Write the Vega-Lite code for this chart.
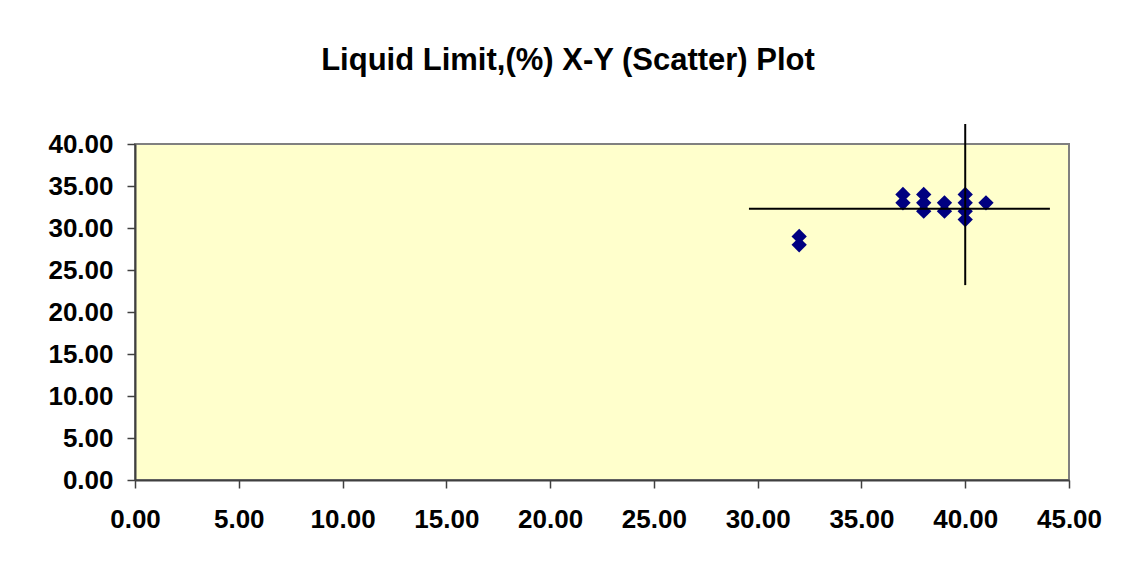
{
  "$schema": "https://vega.github.io/schema/vega-lite/v6.json",
  "width": 934,
  "height": 336,
  "autosize": {"type": "none"},
  "padding": {"left": 135, "top": 144, "right": 71, "bottom": 91},
  "background": "#ffffff",
  "title": {
    "text": "Liquid Limit,(%) X-Y (Scatter) Plot",
    "font": "Liberation Sans",
    "fontSize": 31,
    "fontWeight": "bold",
    "color": "#000000",
    "anchor": "middle",
    "dx": -34,
    "baseline": "alphabetic",
    "offset": 22
  },
  "config": {
    "view": {"fill": "#FFFFCC", "stroke": "#808080", "strokeWidth": 2},
    "axis": {
      "grid": false,
      "domainColor": "#404040",
      "domainWidth": 2,
      "tickColor": "#404040",
      "tickWidth": 1.5,
      "tickSize": 8,
      "labelFont": "Liberation Sans",
      "labelFontSize": 26,
      "labelFontWeight": "bold",
      "labelColor": "#000000",
      "labelFlush": false,
      "labelOverlap": false,
      "title": null
    }
  },
  "layer": [
    {
      "data": {
        "values": [
          {"x": 32, "y": 28}, {"x": 32, "y": 29},
          {"x": 37, "y": 33}, {"x": 37, "y": 34},
          {"x": 38, "y": 32}, {"x": 38, "y": 33}, {"x": 38, "y": 34},
          {"x": 39, "y": 32}, {"x": 39, "y": 33},
          {"x": 40, "y": 31}, {"x": 40, "y": 32}, {"x": 40, "y": 33}, {"x": 40, "y": 34},
          {"x": 41, "y": 33}
        ]
      },
      "mark": {"type": "point", "shape": "diamond", "filled": true, "size": 235, "color": "#000080", "opacity": 1},
      "encoding": {
        "x": {"field": "x", "type": "quantitative", "scale": {"domain": [0, 45], "nice": false, "zero": true},
              "axis": {"values": [0, 5, 10, 15, 20, 25, 30, 35, 40, 45], "format": ".2f", "labelPadding": 18}},
        "y": {"field": "y", "type": "quantitative", "scale": {"domain": [0, 40], "nice": false},
              "axis": {"values": [0, 5, 10, 15, 20, 25, 30, 35, 40], "format": ".2f", "labelPadding": 14}}
      }
    },
    {
      "data": {
        "values": [
          {"x": 29.58, "x2": 44.08, "y": 32.3, "y2": 32.3},
          {"x": 40.0, "x2": 40.0, "y": 23.2, "y2": 42.38}
        ]
      },
      "mark": {"type": "rule", "color": "#000000", "strokeWidth": 2},
      "encoding": {
        "x": {"field": "x", "type": "quantitative"},
        "x2": {"field": "x2"},
        "y": {"field": "y", "type": "quantitative"},
        "y2": {"field": "y2"}
      }
    }
  ]
}
